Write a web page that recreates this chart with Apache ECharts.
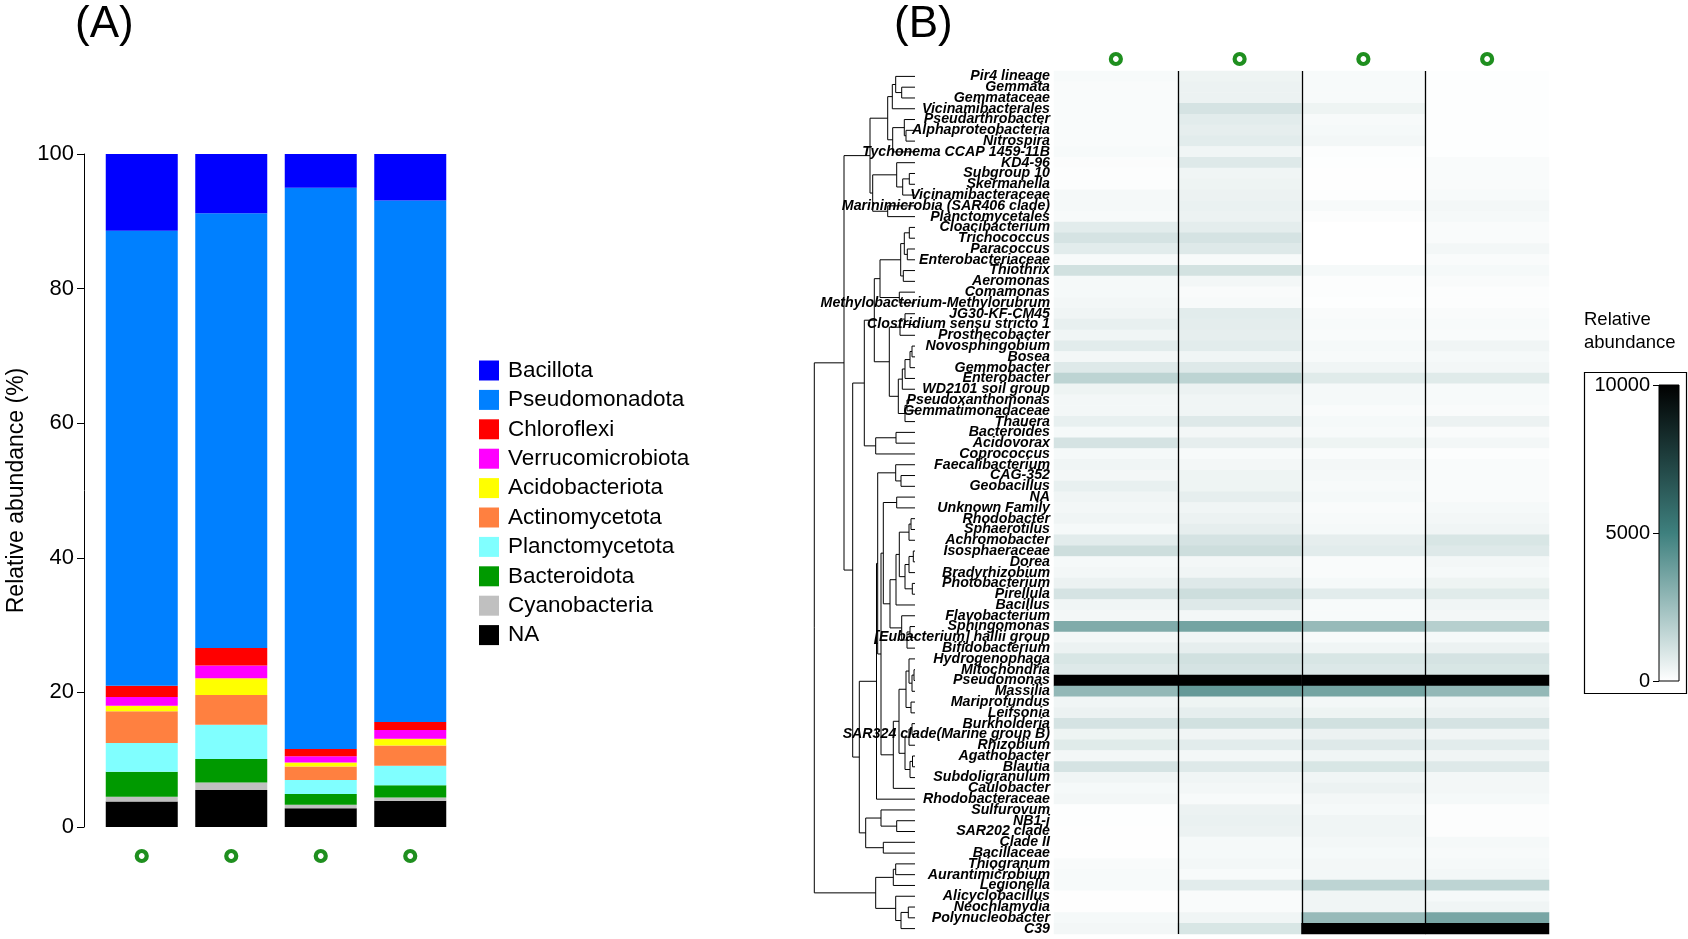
<!DOCTYPE html>
<html><head><meta charset="utf-8">
<script src="https://cdn.jsdelivr.net/npm/echarts@6/dist/echarts.min.js"></script>
<style>html,body{margin:0;padding:0;background:#fff}#c{width:1688px;height:939px}</style>
</head><body><div id="c"></div><script>
// ---------- Panel A data (relative abundance, %) ----------
const samples = ['S1', 'S2', 'S3', 'S4'];
const phyla = ['Bacillota','Pseudomonadota','Chloroflexi','Verrucomicrobiota','Acidobacteriota','Actinomycetota','Planctomycetota','Bacteroidota','Cyanobacteria','NA'];
const phylumColors = ['#0000ff','#0080ff','#ff0000','#ff00ff','#ffff00','#ff8040','#80ffff','#009a00','#c0c0c0','#000000'];
const pctBacillota       = [11.4, 8.8, 5.0, 6.9];
const pctPseudomonadota  = [67.6, 64.6, 83.4, 77.5];
const pctChloroflexi     = [1.7, 2.6, 1.1, 1.2];
const pctVerrucomicrobiota = [1.3, 1.9, 0.9, 1.3];
const pctAcidobacteriota = [0.8, 2.5, 0.6, 1.0];
const pctActinomycetota  = [4.7, 4.4, 2.0, 3.0];
const pctPlanctomycetota = [4.3, 5.1, 2.1, 2.9];
const pctBacteroidota    = [3.7, 3.5, 1.6, 1.8];
const pctCyanobacteria   = [0.7, 1.1, 0.5, 0.5];
const pctNA              = [3.8, 5.5, 2.8, 3.9];
const yTicksA = [0, 20, 40, 60, 80, 100];

// ---------- Panel B data (heatmap, rows top -> bottom) ----------
const taxa = ['Pir4 lineage','Gemmata','Gemmataceae','Vicinamibacterales','Pseudarthrobacter','Alphaproteobacteria','Nitrospira','Tychonema CCAP 1459-11B','KD4-96','Subgroup 10','Skermanella','Vicinamibacteraceae','Marinimicrobia (SAR406 clade)','Planctomycetales','Cloacibacterium','Trichococcus','Paracoccus','Enterobacteriaceae','Thiothrix','Aeromonas','Comamonas','Methylobacterium-Methylorubrum','JG30-KF-CM45','Clostridium sensu stricto 1','Prosthecobacter','Novosphingobium','Bosea','Gemmobacter','Enterobacter','WD2101 soil group','Pseudoxanthomonas','Gemmatimonadaceae','Thauera','Bacteroides','Acidovorax','Coprococcus','Faecalibacterium','CAG-352','Geobacillus','NA','Unknown Family','Rhodobacter','Sphaerotilus','Achromobacter','Isosphaeraceae','Dorea','Bradyrhizobium','Photobacterium','Pirellula','Bacillus','Flavobacterium','Sphingomonas','[Eubacterium] hallii group','Bifidobacterium','Hydrogenophaga','Mitochondria','Pseudomonas','Massilia','Mariprofundus','Leifsonia','Burkholderia','SAR324 clade(Marine group B)','Rhizobium','Agathobacter','Blautia','Subdoligranulum','Caulobacter','Rhodobacteraceae','Sulfurovum','NB1-j','SAR202 clade','Clade II','Bacillaceae','Thiogranum','Aurantimicrobium','Legionella','Alicyclobacillus','Neochlamydia','Polynucleobacter','C39'];
const hmS1 = [200,150,150,150,150,150,150,200,100,80,80,250,250,200,750,1100,750,200,1200,250,250,300,400,600,400,750,300,850,1700,450,300,300,600,250,1100,250,400,300,600,400,300,400,250,750,1300,250,300,500,1100,400,300,3300,300,500,1000,850,10000,2800,400,500,1100,450,800,300,1100,400,250,300,50,50,20,20,20,150,200,200,20,20,250,300];
const hmS2 = [450,500,500,1100,750,650,750,400,850,400,450,500,550,500,700,1100,850,200,1150,300,150,200,750,700,650,750,400,850,1700,500,400,400,850,300,650,200,300,450,450,650,400,500,650,1100,1300,300,400,850,1300,850,300,3600,400,650,1200,1100,10000,4000,450,650,1200,400,750,300,850,400,300,200,500,550,500,250,250,300,200,750,150,150,400,1000];
const hmS3 = [200,200,200,450,200,250,300,80,50,30,30,50,200,80,0,0,0,0,250,80,80,50,150,200,150,250,200,400,800,250,250,150,250,200,450,150,300,250,200,250,150,200,250,650,750,150,150,250,750,200,200,2700,200,400,1000,900,10000,3600,300,450,1200,500,850,400,1000,400,500,300,250,400,400,300,250,300,300,1700,400,400,2700,10000];
const hmS4 = [50,50,50,50,50,50,50,50,150,150,150,200,300,250,150,150,300,150,250,150,80,80,150,200,150,400,250,300,800,200,200,150,500,150,300,80,150,150,150,150,250,300,400,1000,850,300,250,450,800,400,300,1900,250,500,1100,1000,10000,2800,400,500,1100,400,750,400,850,300,300,250,80,80,80,250,200,250,300,1700,250,400,3500,10000];
const colorbarTicks = [0, 5000, 10000];
// Row dendrogram: [mergeHeight, left, right]; leaves are 1-based row numbers
const dendroTop = [45,
  [27.3, [22.7, [19.3, 1, [13.3, 2, 3]], 4], [22.3, [10.7, 5, [9, 6, 7]], 8]],
  [42.3, [18.3, 9, [12.3, [5.7, 10, 11], 12]], [27.3, 13, 14]]];
const dendroMidA = [50.7,
  [40.7,
    [35, [14.3, [10.7, [5.7, 15, 16], [7.7, 17, 18]], [11.7, 19, 20]], [15.7, 21, 22]],
    [25.7, [15, [10, 23, 24], 25], [16.7, [12.7, [10, [5, [3, 26, 27], 28], 29], 30], [10, [8, 31, 32], 33]]]],
  [39.3, [19, 34, 35], 36]];
const dendroMidB = [55.7,
  [38.5,
    [37.3, [19.3, 37, [14, 38, 39]],
      [34,
        [31.7, [18.3, 40, 41],
          [25, [19, [15.7, [6, [4, 42, 43], 44], [10, [6, [1.7, 45, 46], 47], [2.7, 48, 49]]], 50],
               [13.3, 51, [8, [5, 52, 53], 54]]]],
        [21.7, [16, [9, [6, 55, [3, [1, 56, 57], 58]], [4, 59, 60]],
                    [10, [6, [3, 61, 62], 63], [5, [2.5, 64, 65], 66]]], 67]]],
    68],
  [49.3, [34, 69, [18.3, 70, 71]], [31.7, 72, 73]]];
const dendroBottom = [39.3, [21.7, [19.3, 74, 75], 76], [19.3, 77, [14, [6.7, 78, 79], 80]]];
const dendroRoot = [100.7, [71, dendroTop, [62.3, dendroMidA, dendroMidB]], dendroBottom];

// ---------- build ----------
const phylumValues = [pctBacillota, pctPseudomonadota, pctChloroflexi, pctVerrucomicrobiota, pctAcidobacteriota, pctActinomycetota, pctPlanctomycetota, pctBacteroidota, pctCyanobacteria, pctNA];
const FONT = "'Liberation Sans', Arial, sans-serif";
const GREEN = '#1f8f1f';
const circleLabel = { formatter: () => '{c|\u00a0}', rich: { c: { width: 10, height: 10, borderColor: GREEN, borderWidth: 4.2, borderRadius: 12 } } };

const barSeries = [];
for (let i = phyla.length - 1; i >= 0; i--) {
  barSeries.push({ name: phyla[i], type: 'bar', stack: 'total', xAxisIndex: 0, yAxisIndex: 0,
    barWidth: 72, data: phylumValues[i], itemStyle: { color: phylumColors[i] } });
}

const hmData = [];
[hmS1, hmS2, hmS3, hmS4].forEach((col, ci) => col.forEach((v, ri) => hmData.push([ci, ri, v])));

const segs = [];
function layoutTree(node) {
  if (typeof node === 'number') return { h: 0, y: node };
  const a = layoutTree(node[1]), b = layoutTree(node[2]);
  const h = node[0];
  segs.push([a.h, a.y, h, a.y]);
  segs.push([b.h, b.y, h, b.y]);
  segs.push([h, a.y, h, b.y]);
  return { h: h, y: (a.y + b.y) / 2 };
}
layoutTree(dendroRoot);

const chart = echarts.init(document.getElementById('c'));
chart.setOption({
  animation: false,
  backgroundColor: '#ffffff',
  textStyle: { fontFamily: FONT },
  title: [
    { text: '(A)', left: 70, top: -2, textStyle: { fontSize: 44, fontWeight: 'normal', color: '#000', fontFamily: FONT } },
    { text: '(B)', left: 889, top: -2, textStyle: { fontSize: 44, fontWeight: 'normal', color: '#000', fontFamily: FONT } },
    { text: 'Relative\nabundance', left: 1579, top: 303, textStyle: { fontSize: 18.5, lineHeight: 23, fontWeight: 'normal', color: '#000', fontFamily: FONT } }
  ],
  legend: {
    data: phyla, orient: 'vertical', left: 474, top: 354, itemWidth: 20, itemHeight: 20, itemGap: 6.4,
    icon: 'rect', textStyle: { fontSize: 22.5, color: '#000', fontFamily: FONT, padding: [0, 0, 0, 4] }
  },
  grid: [
    { left: 97, top: 154, width: 358, height: 673 },
    { left: 1054, top: 71, width: 495, height: 863 },
    { left: 814, top: 71, width: 101, height: 863 },
    { left: 1659, top: 385, width: 20, height: 296 }
  ],
  xAxis: [
    { gridIndex: 0, type: 'category', data: samples, axisLine: { show: false }, axisTick: { show: false },
      axisLabel: Object.assign({ margin: 24 }, circleLabel) },
    { gridIndex: 1, type: 'category', data: samples, position: 'top', axisLine: { show: false }, axisTick: { show: false },
      axisLabel: Object.assign({ margin: 7 }, circleLabel), splitLine: { show: false } },
    { gridIndex: 2, type: 'value', min: 0, max: 101, inverse: true, show: false },
    { gridIndex: 3, type: 'value', min: 0, max: 1, show: false }
  ],
  yAxis: [
    { gridIndex: 0, type: 'value', min: 0, max: 100, interval: 20, offset: 13,
      name: 'Relative abundance (%)', nameLocation: 'middle', nameGap: 56, nameRotate: 90,
      nameTextStyle: { fontSize: 23, color: '#000', fontFamily: FONT },
      axisLine: { show: true, lineStyle: { color: '#000', width: 1 } },
      axisTick: { show: true, length: 7, lineStyle: { color: '#000' } },
      axisLabel: { fontSize: 22, color: '#000', margin: 10, fontFamily: FONT },
      splitLine: { show: false } },
    { gridIndex: 1, type: 'category', data: taxa, inverse: true, z: 6,
      axisLine: { show: false }, axisTick: { show: false },
      axisLabel: { interval: 0, margin: 4, fontSize: 14.2, fontWeight: 'bold', fontStyle: 'italic', color: '#000', fontFamily: FONT } },
    { gridIndex: 2, type: 'value', min: 0.5, max: 80.5, inverse: true, show: false },
    { gridIndex: 3, type: 'value', min: 0, max: 10000, interval: 5000, position: 'left',
      axisLine: { show: false }, axisTick: { show: true, length: 6, lineStyle: { color: '#000' } },
      axisLabel: { fontSize: 20, color: '#000', margin: 9, fontFamily: FONT, formatter: v => String(v) }, splitLine: { show: false } }
  ],
  visualMap: {
    show: false, type: 'continuous', min: 0, max: 10000, seriesIndex: phyla.length,
    inRange: { color: ['#ffffff', '#3e807e', '#000000'] }
  },
  series: barSeries.concat([
    { type: 'heatmap', xAxisIndex: 1, yAxisIndex: 1, data: hmData, emphasis: { disabled: true }, z: 2 },
    { type: 'custom', xAxisIndex: 1, yAxisIndex: 1, z: 4, silent: true,
      data: [[1, 0], [2, 0], [3, 0]],
      renderItem: function (params, api) {
        const cs = params.coordSys;
        const c = api.coord([api.value(0), 0]);
        const w = api.size([1, 0])[0];
        const x = Math.round(c[0] - w / 2) + 0.5;
        return { type: 'line', shape: { x1: x, y1: cs.y, x2: x, y2: cs.y + cs.height }, style: { stroke: '#000', lineWidth: 1.3 } };
      } },
    { type: 'custom', xAxisIndex: 2, yAxisIndex: 2, z: 1, silent: true, data: segs,
      encode: { x: [0, 2], y: [1, 3] },
      renderItem: function (params, api) {
        const p1 = api.coord([api.value(0), api.value(1)]);
        const p2 = api.coord([api.value(2), api.value(3)]);
        return { type: 'line', shape: { x1: p1[0], y1: p1[1], x2: p2[0], y2: p2[1] }, style: { stroke: '#000', lineWidth: 1 } };
      } },
    { type: 'custom', xAxisIndex: 3, yAxisIndex: 3, silent: true, data: [[0, colorbarTicks[0], 1, colorbarTicks[2]]],
      encode: { x: [0, 2], y: [1, 3] },
      renderItem: function (params, api) {
        const p1 = api.coord([api.value(0), api.value(3)]);
        const p2 = api.coord([api.value(2), api.value(1)]);
        return { type: 'rect', shape: { x: p1[0], y: p1[1], width: p2[0] - p1[0], height: p2[1] - p1[1] },
          style: { stroke: '#000', lineWidth: 1,
            fill: new echarts.graphic.LinearGradient(0, 0, 0, 1, [
              { offset: 0, color: '#000000' }, { offset: 0.5, color: '#3e807e' }, { offset: 1, color: '#ffffff' }]) } };
      } }
  ]),
  graphic: [
    { type: 'rect', left: 1582, top: 370, shape: { width: 102, height: 321 }, style: { fill: 'none', stroke: '#000', lineWidth: 1.2 } }
  ]
});
</script></body></html>
